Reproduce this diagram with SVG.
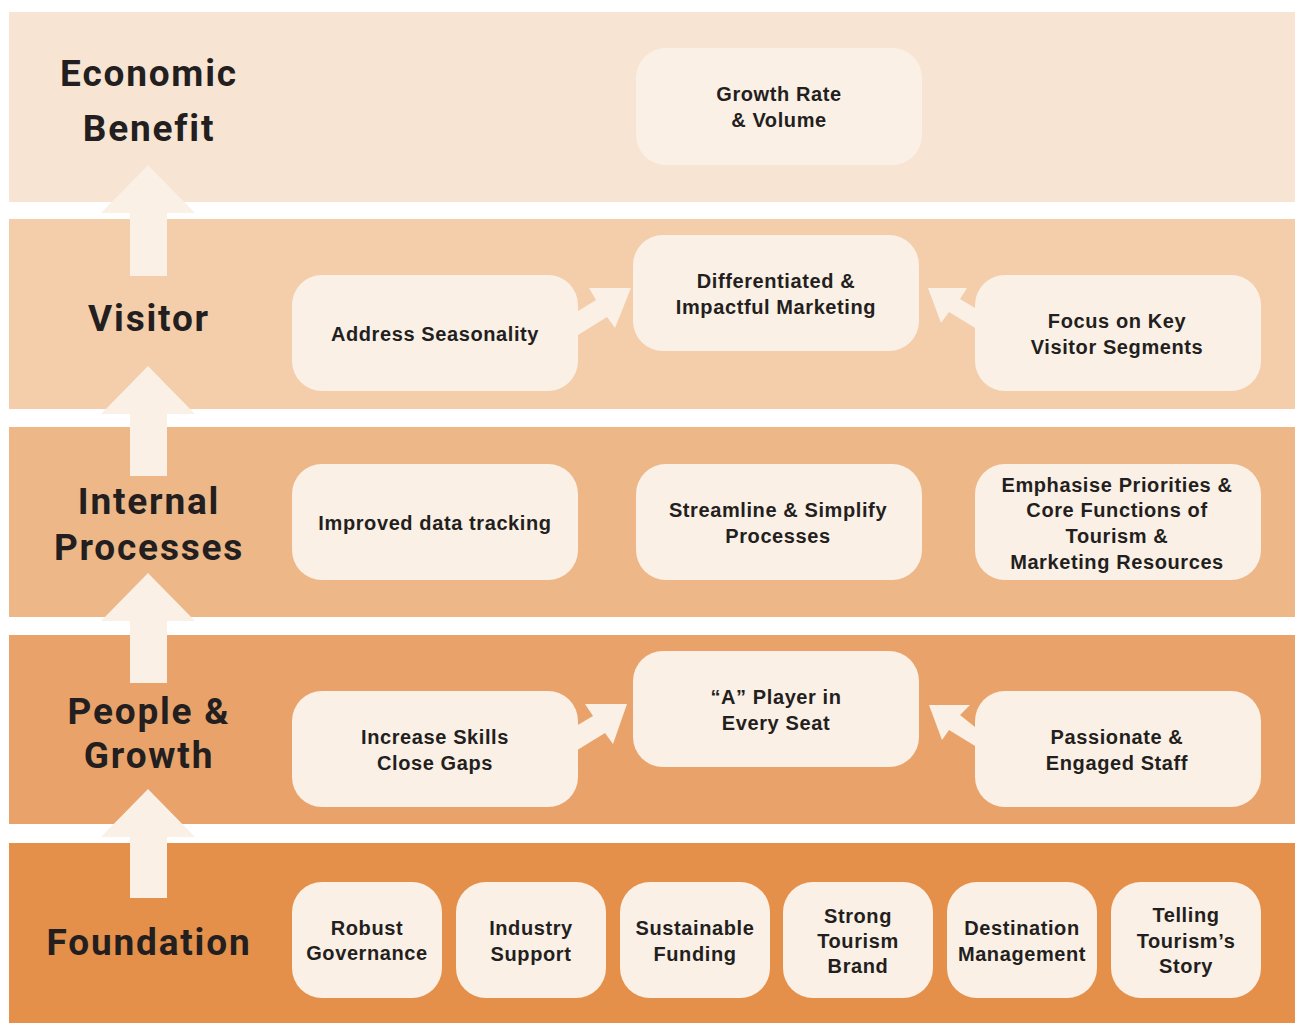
<svg xmlns="http://www.w3.org/2000/svg" width="1295" height="1023" viewBox="0 0 1295 1023">
<style>
.box{fill:#FBF0E6}
.arr{fill:#FAF0E6}
.t{font-family:"Liberation Sans",Arial,sans-serif;font-weight:bold;font-size:20px;letter-spacing:0.6px;fill:#231F20;text-anchor:middle}
.h{font-family:Roboto,"Liberation Sans",sans-serif;font-weight:bold;font-size:37px;fill:#231F20;text-anchor:middle;letter-spacing:1.8px}
</style>
<rect width="1295" height="1023" fill="#FFFFFF"/>
<g id="bands">
<rect x="9" y="12" width="1286" height="190" fill="#F8E4D3"/>
<rect x="9" y="219" width="1286" height="190" fill="#F4CDAA"/>
<rect x="9" y="427" width="1286" height="190" fill="#EDB788"/>
<rect x="9" y="635" width="1286" height="189" fill="#E9A36A"/>
<rect x="9" y="843" width="1286" height="180" fill="#E4904A"/>
</g>
<g id="connectors">
<polygon class="arr" points="130,276 130,213 101,213 148,165 195,213 167,213 167,276"/>
<polygon class="arr" points="130,476 130,414 101,414 148,366 195,414 167,414 167,476"/>
<polygon class="arr" points="130,683 130,621 101,621 148,573 195,621 167,621 167,683"/>
<polygon class="arr" points="130,898 130,837 101,837 148,789 195,837 167,837 167,898"/>
<polygon class="arr" points="570,316 596,300 589,288 631,288 615,328 607,317 570,340"/>
<polygon class="arr" points="985,314 960,299 967,288 928,288 941,323 949,312 985,334"/>
<polygon class="arr" points="566,732 593,716 585,704 627,704 613,744 605,733 566,757"/>
<polygon class="arr" points="985,735 960,715 970,705 929,705 942,740 949,730 985,752"/>
</g>
<g id="labels">
<text class="h" x="149" y="86">Economic</text>
<text class="h" x="149" y="141">Benefit</text>
<text class="h" x="149" y="331">Visitor</text>
<text class="h" x="149" y="514">Internal</text>
<text class="h" x="149" y="560">Processes</text>
<text class="h" x="149" y="724">People &amp;</text>
<text class="h" x="149" y="768">Growth</text>
<text class="h" x="149" y="955">Foundation</text>
</g>
<g id="n-growth"><rect class="box" x="636" y="48" width="286" height="117" rx="30"/>
<text class="t" x="779" y="101">Growth Rate</text><text class="t" x="779" y="127">&amp; Volume</text></g>
<g id="n-season"><rect class="box" x="292" y="275" width="286" height="116" rx="30"/>
<text class="t" x="435" y="341">Address Seasonality</text></g>
<g id="n-diff"><rect class="box" x="633" y="235" width="286" height="116" rx="30"/>
<text class="t" x="776" y="288">Differentiated &amp;</text><text class="t" x="776" y="314">Impactful Marketing</text></g>
<g id="n-focus"><rect class="box" x="975" y="275" width="286" height="116" rx="30"/>
<text class="t" x="1117" y="328">Focus on Key</text><text class="t" x="1117" y="354">Visitor Segments</text></g>
<g id="n-data"><rect class="box" x="292" y="464" width="286" height="116" rx="30"/>
<text class="t" x="435" y="530">Improved data tracking</text></g>
<g id="n-stream"><rect class="box" x="636" y="464" width="286" height="116" rx="30"/>
<text class="t" x="778" y="517">Streamline &amp; Simplify</text><text class="t" x="778" y="543">Processes</text></g>
<g id="n-emph"><rect class="box" x="975" y="464" width="286" height="116" rx="30"/>
<text class="t" x="1117" y="492">Emphasise Priorities &amp;</text><text class="t" x="1117" y="517">Core Functions of</text><text class="t" x="1117" y="543">Tourism &amp;</text><text class="t" x="1117" y="569">Marketing Resources</text></g>
<g id="n-skills"><rect class="box" x="292" y="691" width="286" height="116" rx="30"/>
<text class="t" x="435" y="744">Increase Skills</text><text class="t" x="435" y="770">Close Gaps</text></g>
<g id="n-aplayer"><rect class="box" x="633" y="651" width="286" height="116" rx="30"/>
<text class="t" x="776" y="704">“A” Player in</text><text class="t" x="776" y="730">Every Seat</text></g>
<g id="n-staff"><rect class="box" x="975" y="691" width="286" height="116" rx="30"/>
<text class="t" x="1117" y="744">Passionate &amp;</text><text class="t" x="1117" y="770">Engaged Staff</text></g>
<g id="n-gov"><rect class="box" x="292" y="882" width="150" height="116" rx="30"/>
<text class="t" x="367" y="935">Robust</text><text class="t" x="367" y="960">Governance</text></g>
<g id="n-ind"><rect class="box" x="456" y="882" width="150" height="116" rx="30"/>
<text class="t" x="531" y="935">Industry</text><text class="t" x="531" y="961">Support</text></g>
<g id="n-fund"><rect class="box" x="620" y="882" width="150" height="116" rx="30"/>
<text class="t" x="695" y="935">Sustainable</text><text class="t" x="695" y="961">Funding</text></g>
<g id="n-brand"><rect class="box" x="783" y="882" width="150" height="116" rx="30"/>
<text class="t" x="858" y="923">Strong</text><text class="t" x="858" y="948">Tourism</text><text class="t" x="858" y="973">Brand</text></g>
<g id="n-dest"><rect class="box" x="947" y="882" width="150" height="116" rx="30"/>
<text class="t" x="1022" y="935">Destination</text><text class="t" x="1022" y="961">Management</text></g>
<g id="n-story"><rect class="box" x="1111" y="882" width="150" height="116" rx="30"/>
<text class="t" x="1186" y="922">Telling</text><text class="t" x="1186" y="948">Tourism’s</text><text class="t" x="1186" y="973">Story</text></g>
</svg>
